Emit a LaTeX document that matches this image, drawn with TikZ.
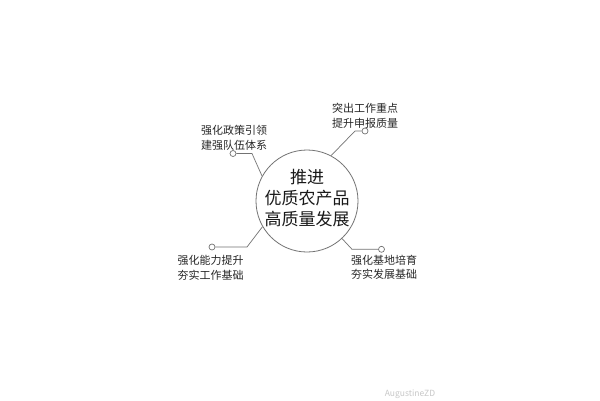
\documentclass[tikz,border=0pt]{standalone}
\usepackage{fontspec}
\setmainfont{Noto Sans CJK SC}
\begin{document}
\begin{tikzpicture}[x=1pt,y=-1pt,
  lbl/.style={font=\fontsize{11}{14.5}\selectfont, align=center, text=black!85, inner sep=0pt},
  conn/.style={draw=black!55, line width=0.7pt},
  dotc/.style={circle, draw=black!55, fill=white, line width=0.7pt, minimum size=6pt, inner sep=0pt}]
\useasboundingbox[fill=white] (0,0) rectangle (600,400);
% central circle
\node[circle, draw=black!55, line width=0.8pt, minimum size=102pt, inner sep=0pt] (c) at (307,201) {};
\node[font=\fontsize{17}{21}\selectfont, align=center, text=black!90, inner sep=0pt] (ct) at (307,198) {推进\\优质农产品\\高质量发展};
% labels
\node[lbl] (tr) at (365,116) {突出工作重点\\提升申报质量};
\node[lbl] (tl) at (234,138) {强化政策引领\\建强队伍体系};
\node[lbl] (bl) at (210.5,268) {强化能力提升\\夯实工作基础};
\node[lbl] (br) at (384,267.5) {强化基地培育\\夯实发展基础};
% bends
\coordinate (trb) at (355,131);
\coordinate (tlb) at (252,153.5);
\coordinate (blb) at (247,247);
\coordinate (brb) at (352,249.3);
% dots
\node[dotc] (trd) at (365,131) {};
\node[dotc] (tld) at (233,153.5) {};
\node[dotc] (bld) at (212,247) {};
\node[dotc] (brd) at (381.5,249.3) {};
% connectors
\draw[conn] (trd) -- (trb) -- (c.62);
\draw[conn] (tld) -- (tlb) -- (c.151);
\draw[conn] (bld) -- (blb) -- (c.210);
\draw[conn] (brd) -- (brb) -- (c.-47);
% watermark
\node[font=\fontsize{8.5}{9}\selectfont, text=black!22, inner sep=0pt] (wm) at (410,394) {AugustineZD};
\end{tikzpicture}
\end{document}
